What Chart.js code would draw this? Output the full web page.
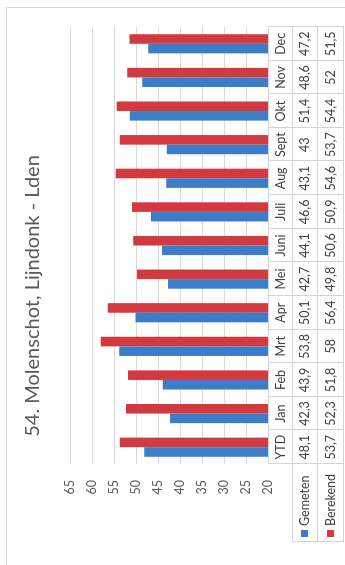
<!DOCTYPE html>
<html>
<head>
<meta charset="utf-8">
<script src="https://cdn.jsdelivr.net/npm/chart.js@4/dist/chart.umd.min.js"></script>
<style>
  html, body { margin: 0; padding: 0; background: #ffffff; overflow: hidden; }
  body { width: 345px; height: 565px; position: relative; }
  #wrap {
    position: absolute; left: 0; top: 0;
    width: 565px; height: 345px;
    transform-origin: 0 0;
    transform: translate(0px, 565px) rotate(-90deg);
  }
  canvas { display: block; }
</style>
</head>
<body>
<div id="wrap"><canvas id="c" width="565" height="345"></canvas></div>
<script>
const chartTitle = '54. Molenschot, Lijndonk - Lden';
const categories = ['YTD', 'Jan', 'Feb', 'Mrt', 'Apr', 'Mei', 'Juni', 'Juli', 'Aug', 'Sept', 'Okt', 'Nov', 'Dec'];
const seriesNames = ['Gemeten', 'Berekend'];
const gemeten = [48.1, 42.3, 43.9, 53.8, 50.1, 42.7, 44.1, 46.6, 43.1, 43, 51.4, 48.6, 47.2];
const berekend = [53.7, 52.3, 51.8, 58, 56.4, 49.8, 50.6, 50.9, 54.6, 53.7, 54.4, 52, 51.5];
const valueMin = 20;
const valueMax = 65;
const valueStep = 5;

const FONT = 'Lato';
const seriesColors = ['#3B7DC8', '#D33A40'];
const gridColor = '#d9d9d9';

function fmt(v) { return String(v).replace('.', ','); }

const frame = {
  id: 'frame',
  beforeDraw(chart) {
    const ctx = chart.ctx;
    ctx.save();
    ctx.fillStyle = '#ffffff';
    ctx.fillRect(0, 0, chart.width, chart.height);
    ctx.strokeStyle = '#d9d9d9';
    ctx.lineWidth = 1;
    ctx.beginPath();
    ctx.moveTo(0, 6.5); ctx.lineTo(557.5, 6.5); ctx.lineTo(557.5, chart.height);
    ctx.stroke();
    ctx.restore();
  }
};

const dataTable = {
  id: 'dataTable',
  afterDraw(chart) {
    const ctx = chart.ctx;
    const ca = chart.chartArea;
    const xs = chart.scales.x;
    const n = categories.length;
    const colW = (ca.right - ca.left) / n;
    const top = Math.round(ca.bottom);
    const rowY = [top, top + 24, top + 49, top + 75];
    const legLeft = 23;
    const px = v => Math.round(v) + 0.5;
    ctx.save();
    ctx.strokeStyle = '#d4d4d4';
    ctx.lineWidth = 1;
    ctx.beginPath();
    // horizontal lines
    ctx.moveTo(px(ca.left), px(rowY[0])); ctx.lineTo(px(ca.right), px(rowY[0]));
    for (let r = 1; r < rowY.length; r++) {
      ctx.moveTo(px(legLeft), px(rowY[r])); ctx.lineTo(px(ca.right), px(rowY[r]));
    }
    // vertical lines
    for (let i = 0; i <= n; i++) {
      const x = px(ca.left + i * colW);
      ctx.moveTo(x, px(rowY[0])); ctx.lineTo(x, px(rowY[3]));
    }
    ctx.moveTo(px(legLeft), px(rowY[1])); ctx.lineTo(px(legLeft), px(rowY[3]));
    ctx.stroke();

    ctx.fillStyle = '#404040';
    ctx.font = '12.5px ' + FONT;
    ctx.textAlign = 'center';
    ctx.textBaseline = 'middle';
    const series = [gemeten, berekend];
    for (let i = 0; i < n; i++) {
      const cx = xs.getPixelForValue(i);
      ctx.fillText(categories[i], cx, (rowY[0] + rowY[1]) / 2 + 0.5);
      for (let s = 0; s < series.length; s++) {
        ctx.fillText(fmt(series[s][i]), cx, (rowY[s + 1] + rowY[s + 2]) / 2 + 0.5);
      }
    }
    // legend cells
    ctx.textAlign = 'left';
    for (let s = 0; s < seriesNames.length; s++) {
      const cy = (rowY[s + 1] + rowY[s + 2]) / 2;
      ctx.fillStyle = seriesColors[s];
      ctx.fillRect(28, Math.round(cy - 3.5), 7, 7);
      ctx.fillStyle = '#404040';
      ctx.fillText(seriesNames[s], 39, cy + 0.5);
    }
    ctx.restore();
  }
};

new Chart(document.getElementById('c'), {
  type: 'bar',
  data: {
    labels: categories,
    datasets: [
      { label: seriesNames[0], data: gemeten, backgroundColor: seriesColors[0], borderWidth: 0,
        categoryPercentage: 0.57, barPercentage: 1.0 },
      { label: seriesNames[1], data: berekend, backgroundColor: seriesColors[1], borderWidth: 0,
        categoryPercentage: 0.57, barPercentage: 1.0 }
    ]
  },
  options: {
    responsive: false,
    animation: false,
    events: [],
    layout: { padding: { left: 0, right: 27, top: 0, bottom: 77 } },
    plugins: {
      legend: { display: false },
      tooltip: { enabled: false },
      title: {
        display: true,
        text: chartTitle,
        color: '#595959',
        font: { family: FONT, size: 20, weight: 'normal' },
        padding: { top: 21, bottom: 25 }
      }
    },
    scales: {
      x: { display: false, offset: true },
      y: {
        min: valueMin, max: valueMax,
        ticks: { stepSize: valueStep, padding: 16, color: '#595959', font: { family: FONT, size: 12.5 } },
        grid: { color: gridColor, drawTicks: false },
        border: { display: false },
        afterFit(scale) { scale.width = 101; }
      }
    }
  },
  plugins: [frame, dataTable]
});
</script>
</body>
</html>
